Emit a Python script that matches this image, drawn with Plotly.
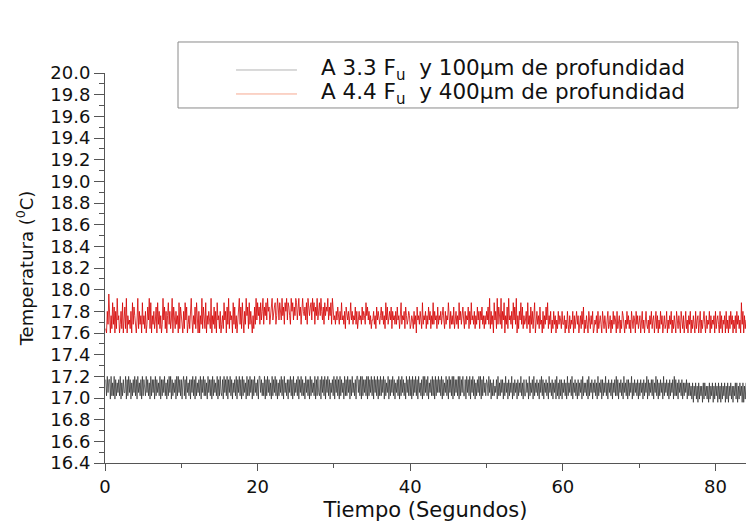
import plotly.graph_objects as go

# Logger sampling interval (seconds)
DT = 0.1

# Readings stored as quantised level codes, one character per sample,
# one string per 5 s of recording.
# Probe A (3.3 Fu, 100 um): temperature = BASE_A + STEP_A * code
BASE_A, STEP_A = 16.96, 0.03
codes_a = [
    "72837718262817263728162733817283716273827183627182",
    "73283726182737182736281727382617283817263718283727",
    "16827183627173827182637281738272618372718273628172",
    "83271837281738271637281738271827361827283717283627",
    "18837262817283726182738271627382718362717382718263",
    "72817382726183727182736281728327183728173827163728",
    "17382718273618272837172836271883728182737281827382",
    "71837281728273817263817273827163728172837261837282",
    "71827382718362718283728163728271827383728172638271",
    "83728182737281827382271837281738271627382817283627",
    "62837162725371826273716283617263816273617263826172",
    "27361826371826372617382716372618362716371826172716",
    "37261826372816372617263718263627182637163726182637",
    "17263826173627163728271637261836271726381627362716",
    "27361726381726372716382716273618263726172637182726",
    "17362716263716262516052615061525061625150615260516",
    "2506150615260516052615052616051625060516",
]

# Probe B (4.4 Fu, 400 um): temperature = BASE_B + STEP_B * code
BASE_B, STEP_B = 17.60, 0.04
codes_b = [
    "10529304172605183402517036180423150726410381524072",
    "41502638170425136072514028361504725138063152407164",
    "20517360241583042617305042816317042531804261507341",
    "50241735062815340726140358261730528461725304162837",
    "46273582647385624783567248637538462758376428573648",
    "73584627854637285467385726483674853627465836472853",
    "42536425373425164352473524362514534263542746352413",
    "35241635424635241736245361534252634157243516423541",
    "24315240634253172435142635142725341624352463152437",
    "31524261352417352463152436152734251426351536241425",
    "36281524073518264281537042618342517362804153726142",
    "35172406251470352416230514263714250315240315243152",
    "24031520413250413524034152603142053142501324051342",
    "05314203512403152430512403154203152413052143052413",
    "40251304521304251340251403152403412503142503142053",
    "14205314025130425031420513402503145204132504132405",
    "1342051403240513041524031405241307250413",
]

series_labels = [
    "A 3.3 F<sub>u</sub>  y 100\u00b5m de profundidad",
    "A 4.4 F<sub>u</sub>  y 400\u00b5m de profundidad",
]
series_colors = ["#111111", "#d40000"]
series_widths = [0.6, 0.8]
legend_colors = ["#b4b4b4", "#f6a890"]


def decode(chunks, base, step):
    levels = "".join(chunks)
    return [round(base + step * int(c), 3) for c in levels]


temp_a = decode(codes_a, BASE_A, STEP_A)
temp_b = decode(codes_b, BASE_B, STEP_B)
time_a = [round(DT * (i + 1), 2) for i in range(len(temp_a))]
time_b = [round(DT * (i + 1), 2) for i in range(len(temp_b))]

FONT = "DejaVu Sans"
AXIS_COLOR = "#555555"

fig = go.Figure()
for t, y, color, w, name in [
    (time_a, temp_a, series_colors[0], series_widths[0], series_labels[0]),
    (time_b, temp_b, series_colors[1], series_widths[1], series_labels[1]),
]:
    fig.add_trace(go.Scatter(
        x=t, y=y, mode="lines", name=name,
        line=dict(color=color, width=w),
        showlegend=False,
    ))

# Boxed key in the upper part of the figure
box = dict(x0=0.1139, x1=0.9875, y0=0.9103, y1=1.0795)
fig.add_shape(type="rect", xref="paper", yref="paper",
              line=dict(color="#8a8a8a", width=1), fillcolor="white",
              layer="above", **box)
for yk, lab, col in [(1.0077, series_labels[0], legend_colors[0]),
                     (0.9462, series_labels[1], legend_colors[1])]:
    fig.add_shape(type="line", xref="paper", yref="paper",
                  x0=0.2044, x1=0.2995, y0=yk, y1=yk,
                  line=dict(color=col, width=1), layer="above")
    fig.add_annotation(xref="paper", yref="paper", x=0.3339, y=yk,
                       xanchor="left", yanchor="middle", showarrow=False,
                       text=lab, font=dict(family=FONT, size=21.5, color="#111111"))

fig.update_layout(
    width=746, height=523, autosize=False,
    margin=dict(l=105, r=0, t=73, b=60),
    paper_bgcolor="white", plot_bgcolor="white",
    font=dict(family=FONT, color="#111111"),
    xaxis=dict(
        range=[0, 84.0], tick0=0, dtick=20,
        ticks="outside", ticklen=7, tickcolor=AXIS_COLOR, tickwidth=1,
        minor=dict(dtick=10, ticks="outside", ticklen=4, tickcolor=AXIS_COLOR),
        showline=True, linecolor=AXIS_COLOR, linewidth=1,
        showgrid=False, zeroline=False, automargin=False,
        tickfont=dict(family=FONT, size=18, color="#111111"),
        title=dict(text="Tiempo (Segundos)", standoff=6,
                   font=dict(family=FONT, size=21, color="#111111")),
    ),
    yaxis=dict(
        range=[16.4, 20.0], tick0=16.4, dtick=0.2, tickformat=".1f",
        ticks="outside", ticklen=10, tickcolor=AXIS_COLOR, tickwidth=1,
        minor=dict(dtick=0.1, ticks="outside", ticklen=5, tickcolor=AXIS_COLOR),
        showline=True, linecolor=AXIS_COLOR, linewidth=1,
        showgrid=False, zeroline=False, automargin=False,
        tickfont=dict(family=FONT, size=18, color="#111111"),
        title=dict(text="Temperatura (<sup>0</sup>C)", standoff=12,
                   font=dict(family=FONT, size=18, color="#111111")),
    ),
)

fig.write_html("out.html")
